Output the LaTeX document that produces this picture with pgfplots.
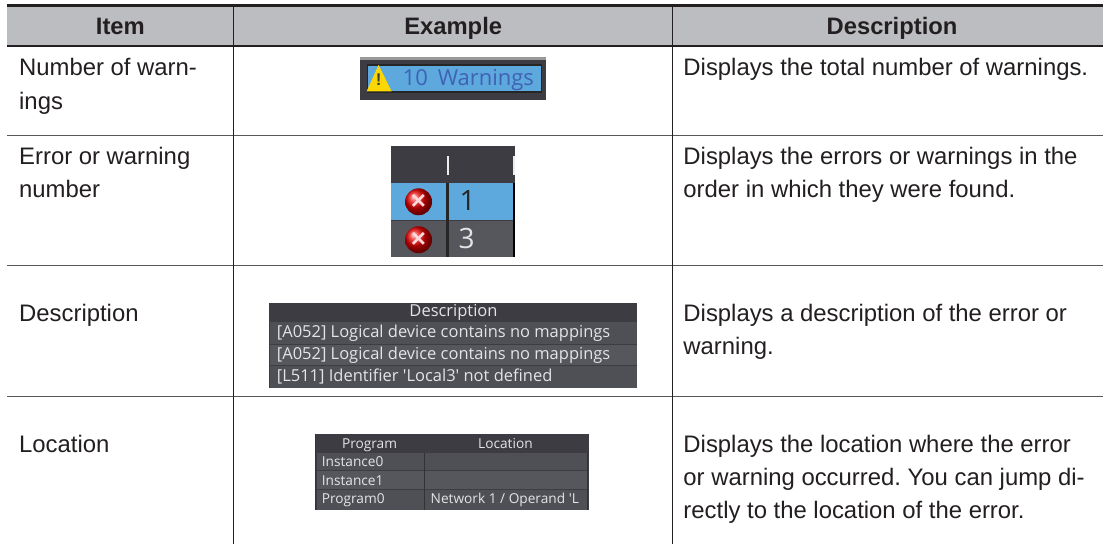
\documentclass[border=0pt]{standalone}
\usepackage{fontspec}
\setmainfont{Liberation Sans}
\newfontfamily\ui{Open Sans}
\usepackage{pgfplots}
\pgfplotsset{compat=1.18}
\frenchspacing
\definecolor{ink}{HTML}{231F20}
\definecolor{hdr}{HTML}{BCBDC0}
\definecolor{dk}{HTML}{3C3C42}
\definecolor{rowa}{HTML}{4F5055}
\definecolor{rowb}{HTML}{56575C}
\definecolor{sky}{HTML}{5DA9DD}
\definecolor{uitxt}{HTML}{E4E4E6}
\definecolor{rulegray}{HTML}{58585A}
\definecolor{warnblue}{HTML}{3F62B5}
\newcommand{\rect}[5]{\addplot[draw=none,fill=#5] coordinates {(#1,#2)(#3,#2)(#3,#4)(#1,#4)} --cycle;}
\newcommand{\rul}[5]{\addplot[draw=#5,line width=#1,line cap=butt] coordinates {(#2,#3)(#4,#3)};}
\newcommand{\vrul}[5]{\addplot[draw=#5,line width=#1,line cap=butt] coordinates {(#2,#3)(#2,#4)};}
\newcommand{\txt}[3]{\node[anchor=base west,inner sep=0pt,text=ink,font=\fontsize{23.9}{26}\selectfont] at (axis cs:#1,#2) {#3};}
\newcommand{\hd}[2]{\node[anchor=base,inner sep=0pt,text=ink,font=\fontsize{23.8}{26}\selectfont\bfseries] at (axis cs:#1,35) {#2};}
\newcommand{\ua}[3]{\node[anchor=base west,inner sep=0pt,text=uitxt,font=\ui\fontsize{16.5}{18}\selectfont] at (axis cs:#1,#2) {#3};}
\newcommand{\ub}[3]{\node[anchor=base west,inner sep=0pt,text=uitxt,font=\ui\fontsize{13.7}{15}\selectfont] at (axis cs:#1,#2) {#3};}
\newcommand{\uc}[3]{\node[anchor=base,inner sep=0pt,text=uitxt,font=\ui\fontsize{13.7}{15}\selectfont] at (axis cs:#1,#2) {#3};}
\begin{document}
\begin{tikzpicture}
\begin{axis}[scale only axis,width=1104pt,height=545pt,xmin=0,xmax=1104,ymin=0,ymax=545,y dir=reverse,axis lines=none,clip=false]
\rect{0}{0}{1104}{545}{white}
% header
\rect{7}{5}{1104}{46}{hdr}
\rul{2.4pt}{7}{5.5}{1104}{ink}
\rul{2.4pt}{7}{46}{1104}{ink}
% rows
\rul{1.5pt}{7}{135.5}{1104}{rulegray}
\rul{1.5pt}{7}{266}{1104}{rulegray}
\rul{1.5pt}{7}{397}{1104}{rulegray}
\vrul{1pt}{234}{5}{545}{ink}
\vrul{1pt}{673}{5}{545}{ink}
\hd{120.5}{Item}
\hd{453.7}{Example}
\hd{893}{Description}
\txt{19}{76}{Number of warn-}
\txt{19}{109.5}{ings}
\txt{19}{165}{Error or warning}
\txt{19}{198}{number}
\txt{19}{322}{Description}
\txt{19}{453}{Location}
\txt{684}{76}{Displays the total number of warnings.}
\txt{684}{165}{Displays the errors or warnings in the}
\txt{684}{198}{order in which they were found.}
\txt{684}{322}{Displays a description of the error or}
\txt{684}{355}{warning.}
\txt{684}{453}{Displays the location where the error}
\txt{684}{486}{or warning occurred. You can jump di-}
\txt{684}{519}{rectly to the location of the error.}
% warnings widget
\rect{360}{57}{547}{100}{dk}
\rect{360}{57}{547}{60}{gray!80}
\rect{367}{64.5}{543}{93}{black!85}
\rect{368}{66}{542}{91.5}{sky}
\addplot[draw=none,fill=yellow!75!orange] coordinates {(379,65)(392,91.5)(367,91.5)} --cycle;
\node[font=\bfseries\fontsize{17}{18}\selectfont,text=black!75] at (axis cs:379,80) {!};
\node[anchor=base west,inner sep=0pt,text=warnblue,font=\ui\fontsize{22}{24}\selectfont] at (axis cs:403,86) {10\hspace{0.45em}Warnings};
% error list
\rect{391}{146}{516}{257}{dk}
\rect{391}{183}{514}{220}{sky}
\rect{391}{221}{514}{257}{rowb}
\rect{446.5}{183}{449.5}{257}{black!85}
\rect{514}{183}{516}{257}{black}
\rect{447}{156}{449.5}{175}{white!85!gray}
\rect{513.5}{156}{516}{175}{white!85!gray}
\node[circle,ball color=red!90!black,minimum size=27pt,inner sep=0pt] at (axis cs:419,202) {};
\node[circle,ball color=red!90!black,minimum size=27pt,inner sep=0pt] at (axis cs:419,240) {};
\node[font=\bfseries\fontsize{26}{26}\selectfont,text=white!85!red] at (axis cs:419,202) {×};
\node[font=\bfseries\fontsize{26}{26}\selectfont,text=white!85!red] at (axis cs:419,240) {×};
\node[anchor=base,inner sep=0pt,text=black!85,font=\ui\fontsize{28}{30}\selectfont] at (axis cs:468,211) {1};
\node[anchor=base,inner sep=0pt,text=uitxt,font=\ui\fontsize{28}{30}\selectfont] at (axis cs:467,249) {3};
% description
\rect{269}{303}{638}{388}{dk}
\rect{270}{322}{638}{344.5}{rowa}
\rect{270}{345.5}{638}{365.5}{rowb}
\rect{270}{366.5}{638}{388}{rowa}
\node[anchor=base,inner sep=0pt,text=uitxt,font=\ui\fontsize{16.5}{18}\selectfont] at (axis cs:454,317) {Description};
\ua{277}{338}{[A052] Logical device contains no mappings}
\ua{277}{360}{[A052] Logical device contains no mappings}
\ua{277}{382}{[L511] Identifier 'Local3' not defined}
% location
\rect{315}{434}{590}{511}{dk}
\rect{317}{453}{588}{470.5}{rowa}
\rect{317}{471.5}{588}{489.5}{rowb}
\rect{317}{490.5}{588}{511}{rowa}
\vrul{1pt}{425}{453}{511}{black!80}
\vrul{1pt}{588.5}{453}{511}{black!80}
\vrul{1pt}{316}{434}{511}{black!80}
\uc{370}{449}{Program}
\uc{506}{449}{Location}
\ub{322}{467}{Instance0}
\ub{322}{486}{Instance1}
\ub{322}{504}{Program0}
\ub{431}{504}{Network 1 / Operand 'L}
\end{axis}
\end{tikzpicture}
\end{document}
